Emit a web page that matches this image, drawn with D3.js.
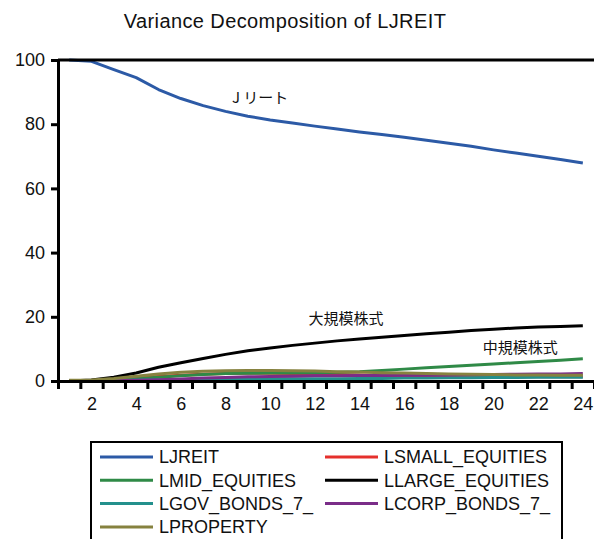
<!DOCTYPE html>
<html>
<head>
<meta charset="utf-8">
<script src="https://cdn.jsdelivr.net/npm/d3@7"></script>
<style>
  body { margin: 0; background: #fff; }
  svg { display: block; font-family: "Liberation Sans", Arial, sans-serif; }
</style>
</head>
<body>
<div id="chart"></div>
<script>
// forecast horizon
var periods = d3.range(1, 25);

var ljreit = [100, 99.6, 97, 94.5, 90.8, 88, 85.8, 84, 82.5, 81.3, 80.4, 79.4,
              78.5, 77.6, 76.8, 75.9, 75.0, 74.1, 73.1, 72.0, 71.0, 70.0, 69.0, 67.9];
var lsmall = [0, 0.1, 0.4, 0.9, 1.4, 1.8, 2.1, 2.3, 2.4, 2.4, 2.3, 2.2,
              2.0, 1.9, 1.7, 1.6, 1.5, 1.4, 1.4, 1.3, 1.3, 1.3, 1.3, 1.3];
var lmid = [0, 0.1, 0.3, 0.7, 1.2, 1.6, 2.0, 2.3, 2.4, 2.5, 2.5, 2.6,
            2.7, 2.9, 3.3, 3.7, 4.1, 4.5, 4.9, 5.3, 5.7, 6.1, 6.5, 6.9];
var llarge = [0, 0.3, 1.2, 2.5, 4.3, 5.7, 7.0, 8.3, 9.4, 10.3, 11.1, 11.8,
              12.5, 13.1, 13.6, 14.2, 14.7, 15.2, 15.7, 16.1, 16.5, 16.8, 17.0, 17.2];
var lgov = [0, 0.1, 0.2, 0.3, 0.4, 0.5, 0.5, 0.6, 0.6, 0.7, 0.7, 0.7,
            0.7, 0.8, 0.8, 0.9, 0.9, 1.0, 1.0, 1.1, 1.1, 1.2, 1.2, 1.2];
var lcorp = [0, 0, 0.1, 0.2, 0.4, 0.6, 0.9, 1.1, 1.3, 1.4, 1.5, 1.6,
             1.6, 1.7, 1.7, 1.8, 1.8, 1.9, 2.0, 2.0, 2.1, 2.2, 2.2, 2.3];
var lproperty = [0.2, 0.3, 0.8, 1.5, 2.2, 2.7, 3.0, 3.2, 3.3, 3.3, 3.2, 3.1,
                 2.9, 2.8, 2.6, 2.5, 2.3, 2.2, 2.1, 2.0, 1.9, 1.9, 1.8, 1.8];

var seriesNames = ["LJREIT", "LSMALL_EQUITIES", "LMID_EQUITIES", "LLARGE_EQUITIES",
                   "LGOV_BONDS_7_", "LCORP_BONDS_7_", "LPROPERTY"];
var seriesValues = [ljreit, lsmall, lmid, llarge, lgov, lcorp, lproperty];
var seriesColors = ["#2c5aa6", "#e5302c", "#2f8a47", "#000000", "#23908c", "#7a2d88", "#86823f"];

var yTicks = [0, 20, 40, 60, 80, 100];
var xTicks = [2, 4, 6, 8, 10, 12, 14, 16, 18, 20, 22, 24];

var notes = [
  {text: "J リート", period: 9.55, value: 87.9},
  {text: "大規模株式", period: 13.4, value: 19.0},
  {text: "中規模株式", period: 21.2, value: 10.0}
];

var W = 594, H = 539;
var margin = {top: 60, right: 0, bottom: 158, left: 58};

var svg = d3.select("#chart").append("svg")
    .attr("width", W)
    .attr("height", H);

var x = d3.scaleLinear()
    .domain([0.5, 24.5])
    .range([margin.left, W - margin.right]);

var y = d3.scaleLinear()
    .domain([0, 100])
    .range([H - margin.bottom, margin.top]);

svg.append("text")
    .attr("x", 285)
    .attr("y", 28)
    .attr("text-anchor", "middle")
    .style("font-size", "20px")
    .style("letter-spacing", "0.4px")
    .attr("fill", "#111")
    .text("Variance Decomposition of LJREIT");

// series lines
var line = d3.line()
    .x(function(d, i) { return x(periods[i]); })
    .y(function(d) { return y(d); });

svg.append("g").selectAll("path")
    .data(seriesValues)
  .enter().append("path")
    .attr("d", line)
    .attr("fill", "none")
    .attr("stroke", function(d, i) { return seriesColors[i]; })
    .attr("stroke-width", 3)
    .attr("stroke-linejoin", "round");

// axes
var yAxis = svg.append("g")
    .attr("transform", "translate(" + margin.left + ",0)")
    .call(d3.axisLeft(y).tickValues(yTicks).tickSize(7).tickPadding(6));
yAxis.selectAll("text").style("font-size", "18px").attr("fill", "#111");

var boundaries = d3.range(0.5, 25, 1);
var xAxis = svg.append("g")
    .attr("transform", "translate(0," + y(0) + ")")
    .call(d3.axisBottom(x).tickValues(boundaries).tickSize(8).tickFormat(""));

svg.append("g")
    .attr("transform", "translate(0," + y(0) + ")")
    .call(d3.axisBottom(x).tickValues(xTicks).tickSize(0).tickPadding(16))
    .call(function(g) { g.select(".domain").remove(); })
    .selectAll("text").style("font-size", "18px").attr("fill", "#111");

svg.selectAll(".domain, .tick line")
    .attr("stroke", "#000")
    .attr("stroke-width", 3);

// top frame
svg.append("line")
    .attr("x1", margin.left).attr("x2", W)
    .attr("y1", y(100)).attr("y2", y(100))
    .attr("stroke", "#000").attr("stroke-width", 3);

// annotations
svg.append("g").selectAll("text")
    .data(notes)
  .enter().append("text")
    .attr("x", function(d) { return x(d.period); })
    .attr("y", function(d) { return y(d.value); })
    .attr("text-anchor", "middle")
    .attr("dominant-baseline", "middle")
    .style("font-family", "'Noto Sans CJK JP', sans-serif")
    .style("font-size", "15px")
    .attr("fill", "#111")
    .text(function(d) { return d.text; });

// legend
var legend = svg.append("g");
legend.append("rect")
    .attr("x", 91).attr("y", 442)
    .attr("width", 471).attr("height", 110)
    .attr("fill", "#fff").attr("stroke", "#000").attr("stroke-width", 2);

var items = legend.selectAll("g.item")
    .data(seriesNames)
  .enter().append("g")
    .attr("class", "item")
    .attr("transform", function(d, i) {
      return "translate(" + (i % 2 ? 325 : 100) + "," + (457 + Math.floor(i / 2) * 23.3) + ")";
    });

items.append("line")
    .attr("x1", 0).attr("x2", 53)
    .attr("stroke", function(d, i) { return seriesColors[i]; })
    .attr("stroke-width", 3);

items.append("text")
    .attr("x", 59)
    .attr("dy", "0.36em")
    .style("font-size", "18px")
    .attr("fill", "#111")
    .text(function(d) { return d; });
</script>
</body>
</html>
